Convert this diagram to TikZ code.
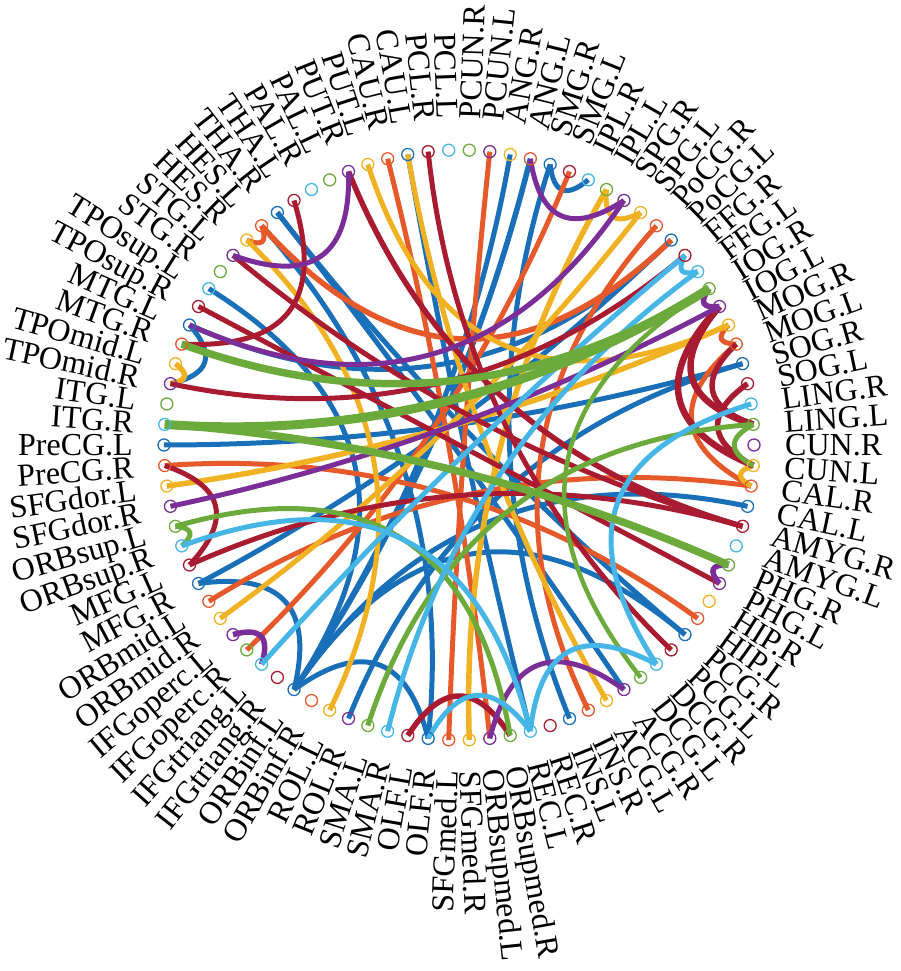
\documentclass[tikz,border=0pt]{standalone}
\usepackage{fontspec}
\setmainfont{Liberation Serif}
\usetikzlibrary{calc}
\definecolor{cbl}{HTML}{1A70B8}
\definecolor{cor}{HTML}{E5592B}
\definecolor{cye}{HTML}{F0B122}
\definecolor{cpu}{HTML}{7B2E98}
\definecolor{cgr}{HTML}{6CAA3C}
\definecolor{clb}{HTML}{45B6E6}
\definecolor{cre}{HTML}{A91B30}
\colorlet{c0}{cbl}\colorlet{c1}{cor}\colorlet{c2}{cye}\colorlet{c3}{cpu}
\colorlet{c4}{cgr}\colorlet{c5}{clb}\colorlet{c6}{cre}
\newcommand\lkdraw[4]{%
  \pgfmathsetmacro\lkA{88-4*#1}%
  \pgfmathsetmacro\lkB{88-4*#2}%
  \pgfmathsetmacro\lkD{mod(\lkB-\lkA+540,360)-180}%
  \pgfmathsetmacro\lkM{\lkA+\lkD/2}%
  \pgfmathsetmacro\lkR{295*max(0,0.97-abs(\lkD)/79)}%
  \draw[#3,line width=#4pt] (p#1) .. controls ($(p#1)!0.6667!(\lkM:\lkR pt)$) and ($(p#2)!0.6667!(\lkM:\lkR pt)$) .. (p#2);%
}
\tikzset{
  lbl/.style={font=\fontsize{32}{32}\selectfont, inner sep=0pt, text height=21pt, text depth=0pt},
  ring/.style={circle, minimum size=12pt, inner sep=0pt, line width=1.3pt, fill=none}
}
\begin{document}
\begin{tikzpicture}
\useasboundingbox (-459pt,-526pt) rectangle (441pt,445pt);
\foreach \k in {0,...,89}{
  \pgfmathsetmacro\ang{88-4*\k}
  \coordinate (p\k) at (\ang:295pt);
}
% links
\foreach \a/\b/\c/\w in {
  4/6/cbl/5, 4/39/cbl/5, 73/70/cbl/5, 73/11/cbl/5, 2/53/cbl/5, 3/53/cbl/5.5,
  75/53/cbl/5, 53/60/cbl/5, 53/46/cbl/5, 53/25/cbl/5, 53/32/cbl/5, 60/11/cbl/5,
  67/18/cbl/5, 80/32/cbl/5, 36/80/cbl/5, 41/87/cbl/5, 50/18/cbl/5, 79/46/cbl/5,
  1/45/cor/5, 5/56/cor/5, 10/38/cor/5, 79/11/cor/5.5, 17/24/cor/5, 16/17/cor/5,
  78/79/cor/5, 43/86/cor/5, 66/31/cor/5, 59/24/cor/5,
  87/37/cye/5, 7/44/cye/5.5, 7/9/cye/5, 51/78/cye/5, 58/9/cye/5, 65/16/cye/5.5,
  16/85/cye/5, 70/71/cye/5.5, 23/24/cye/5,
  81/72/cre/5, 70/12/cre/5, 88/33/cre/5, 47/42/cre/5.5, 61/66/cre/5, 61/26/cre/5,
  77/26/cre/5, 84/26/cre/5.5, 29/74/cre/5, 15/21/cre/6.5, 15/23/cre/6.5, 17/21/cre/5.5, 19/23/cre/5.5,
  3/8/cpu/5, 84/77/cpu/5, 14/15/cpu/5.5, 28/29/cpu/5.5, 55/57/cpu/5.5, 36/43/cpu/5, 8/73/cpu/5, 64/15/cpu/5,
  63/42/cgr/5, 62/63/cgr/5, 21/23/cgr/5, 35/14/cgr/4.5, 49/21/cgr/5,
  12/13/clb/5, 62/41/clb/5, 12/55/clb/5, 48/13/clb/5, 34/20/clb/5, 34/41/clb/5, 41/46/clb/5,
  14/68/cgr/9, 14/72/cgr/7.5, 28/68/cgr/7.5}{
  \lkdraw{\a}{\b}{\c}{\w}
}
% rings
\foreach \k in {0,...,89}{
  \pgfmathtruncatemacro\ci{\k<68 ? mod(67-\k,7) : mod(157-\k,7)}
  \node[ring, draw=c\ci] (n\k) at (p\k) {};
}
% labels
\foreach \k/\lab in {0/PCUN.R,1/PCUN.L,2/ANG.R,3/ANG.L,4/SMG.R,5/SMG.L,6/IPL.R,7/IPL.L,
  8/SPG.R,9/SPG.L,10/PoCG.R,11/PoCG.L,12/FFG.R,13/FFG.L,14/IOG.R,15/IOG.L,16/MOG.R,17/MOG.L,
  18/SOG.R,19/SOG.L,20/LING.R,21/LING.L,22/CUN.R,23/CUN.L,24/CAL.R,25/CAL.L,26/AMYG.R,27/AMYG.L,
  28/PHG.R,29/PHG.L,30/HIP.R,31/HIP.L,32/PCG.R,33/PCG.L,34/DCG.R,35/DCG.L,36/ACG.R,37/ACG.L,
  38/INS.R,39/INS.L,40/REC.R,41/REC.L,42/ORBsupmed.R,43/ORBsupmed.L,44/SFGmed.R,45/SFGmed.L,
  46/OLF.R,47/OLF.L,48/SMA.R,49/SMA.L,50/ROL.R,51/ROL.L,52/ORBinf.R,53/ORBinf.L,
  54/IFGtriang.R,55/IFGtriang.L,56/IFGoperc.R,57/IFGoperc.L,58/ORBmid.R,59/ORBmid.L,
  60/MFG.R,61/MFG.L,62/ORBsup.R,63/ORBsup.L,64/SFGdor.R,65/SFGdor.L,66/PreCG.R,67/PreCG.L,
  68/ITG.R,69/ITG.L,70/TPOmid.R,71/TPOmid.L,72/MTG.R,73/MTG.L,74/TPOsup.R,75/TPOsup.L,
  76/STG.R,77/STG.L,78/HES.R,79/HES.L,80/THA.R,81/THA.L,82/PAL.R,83/PAL.L,84/PUT.R,85/PUT.L,
  86/CAU.R,87/CAU.L,88/PCL.R,89/PCL.L}{
  \pgfmathsetmacro\ang{88-4*\k}
  \ifnum\k<45
    \node[lbl, anchor=west, rotate=\ang] (t\k) at (\ang:326pt) {\lab};
  \else
    \pgfmathsetmacro\rot{\ang+180}
    \node[lbl, anchor=east, rotate=\rot] (t\k) at (\ang:326pt) {\lab};
  \fi
}
\end{tikzpicture}
\end{document}
